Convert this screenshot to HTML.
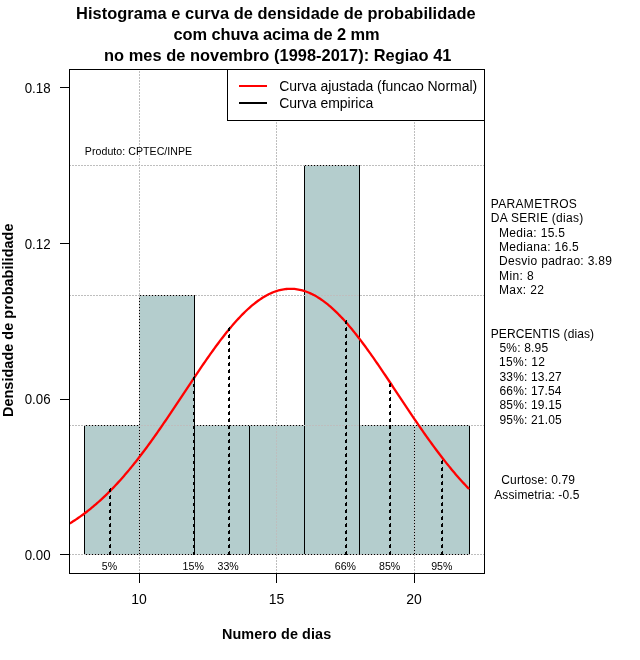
<!DOCTYPE html>
<html lang="pt"><head><meta charset="utf-8"><title>Histograma e curva de densidade de probabilidade</title>
<style>html,body{margin:0;padding:0;background:#fff}body{width:640px;height:660px;overflow:hidden}svg{display:block}text{font-family:"Liberation Sans",Arial,Helvetica,sans-serif;fill:#000}.b{font-weight:bold}.t{font-size:16.4px}.l{font-size:14.4px}.a{font-size:14px}.s{font-size:12px}.p{font-size:10.6px}</style></head><body>
<svg width="640" height="660" viewBox="0 0 640 660">
<rect width="640" height="660" fill="#fff"/>
<g shape-rendering="crispEdges" stroke="#000" stroke-width="1" fill="#b4cdcd">
<rect x="84.5" y="425.5" width="55" height="129"/>
<rect x="139.5" y="295.5" width="55" height="259"/>
<rect x="194.5" y="425.5" width="55" height="129"/>
<rect x="249.5" y="425.5" width="55" height="129"/>
<rect x="304.5" y="165.5" width="55" height="389"/>
<rect x="359.5" y="425.5" width="55" height="129"/>
<rect x="414.5" y="425.5" width="55" height="129"/>
</g>
<g shape-rendering="crispEdges" stroke="#bebebe" stroke-width="1" stroke-dasharray="2 1" fill="none">
<line x1="139.5" y1="574" x2="139.5" y2="70"/>
<line x1="276.5" y1="574" x2="276.5" y2="70"/>
<line x1="414.5" y1="574" x2="414.5" y2="70"/>
<line x1="69" y1="554.5" x2="484" y2="554.5"/>
<line x1="69" y1="425.5" x2="484" y2="425.5"/>
<line x1="69" y1="295.5" x2="484" y2="295.5"/>
<line x1="69" y1="165.5" x2="484" y2="165.5"/>
</g>
<clipPath id="plt"><rect x="70" y="70" width="414" height="503"/></clipPath>
<path clip-path="url(#plt)" d="M69.12 523.81 L70.45 523.00 L71.79 522.17 L73.12 521.33 L74.45 520.47 L75.79 519.59 L77.12 518.69 L78.45 517.78 L79.79 516.86 L81.12 515.91 L82.45 514.95 L83.79 513.97 L85.12 512.97 L86.45 511.96 L87.79 510.92 L89.12 509.87 L90.45 508.80 L91.79 507.72 L93.12 506.61 L94.45 505.49 L95.79 504.35 L97.12 503.19 L98.45 502.01 L99.78 500.82 L101.12 499.60 L102.45 498.37 L103.78 497.12 L105.12 495.85 L106.45 494.56 L107.78 493.26 L109.12 491.93 L110.45 490.59 L111.78 489.23 L113.12 487.85 L114.45 486.45 L115.78 485.03 L117.12 483.60 L118.45 482.14 L119.78 480.67 L121.12 479.18 L122.45 477.68 L123.78 476.15 L125.12 474.61 L126.45 473.05 L127.78 471.47 L129.12 469.88 L130.45 468.27 L131.78 466.64 L133.12 464.99 L134.45 463.33 L135.78 461.66 L137.12 459.96 L138.45 458.25 L139.78 456.53 L141.12 454.79 L142.45 453.04 L143.78 451.27 L145.12 449.48 L146.45 447.69 L147.78 445.88 L149.12 444.05 L150.45 442.22 L151.78 440.37 L153.12 438.50 L154.45 436.63 L155.78 434.75 L157.12 432.85 L158.45 430.94 L159.78 429.03 L161.11 427.10 L162.45 425.16 L163.78 423.22 L165.11 421.27 L166.45 419.30 L167.78 417.34 L169.11 415.36 L170.45 413.38 L171.78 411.39 L173.11 409.40 L174.45 407.40 L175.78 405.40 L177.11 403.40 L178.45 401.39 L179.78 399.38 L181.11 397.37 L182.45 395.35 L183.78 393.34 L185.11 391.32 L186.45 389.31 L187.78 387.30 L189.11 385.29 L190.45 383.28 L191.78 381.28 L193.11 379.28 L194.45 377.28 L195.78 375.29 L197.11 373.31 L198.45 371.33 L199.78 369.36 L201.11 367.40 L202.45 365.45 L203.78 363.50 L205.11 361.57 L206.45 359.65 L207.78 357.73 L209.11 355.84 L210.45 353.95 L211.78 352.08 L213.11 350.22 L214.45 348.38 L215.78 346.55 L217.11 344.74 L218.45 342.95 L219.78 341.17 L221.11 339.41 L222.44 337.68 L223.78 335.96 L225.11 334.26 L226.44 332.59 L227.78 330.94 L229.11 329.31 L230.44 327.70 L231.78 326.12 L233.11 324.56 L234.44 323.03 L235.78 321.53 L237.11 320.05 L238.44 318.60 L239.78 317.17 L241.11 315.78 L242.44 314.41 L243.78 313.08 L245.11 311.77 L246.44 310.50 L247.78 309.26 L249.11 308.05 L250.44 306.87 L251.78 305.72 L253.11 304.61 L254.44 303.54 L255.78 302.49 L257.11 301.49 L258.44 300.52 L259.78 299.58 L261.11 298.68 L262.44 297.82 L263.78 297.00 L265.11 296.21 L266.44 295.46 L267.78 294.75 L269.11 294.08 L270.44 293.45 L271.78 292.85 L273.11 292.30 L274.44 291.78 L275.78 291.31 L277.11 290.87 L278.44 290.48 L279.77 290.13 L281.11 289.82 L282.44 289.54 L283.77 289.31 L285.11 289.12 L286.44 288.98 L287.77 288.87 L289.11 288.81 L290.44 288.78 L291.77 288.80 L293.11 288.86 L294.44 288.96 L295.77 289.10 L297.11 289.28 L298.44 289.51 L299.77 289.77 L301.11 290.08 L302.44 290.43 L303.77 290.82 L305.11 291.24 L306.44 291.71 L307.77 292.22 L309.11 292.77 L310.44 293.36 L311.77 293.99 L313.11 294.65 L314.44 295.36 L315.77 296.10 L317.11 296.88 L318.44 297.70 L319.77 298.56 L321.11 299.45 L322.44 300.38 L323.77 301.35 L325.11 302.35 L326.44 303.39 L327.77 304.46 L329.11 305.56 L330.44 306.70 L331.77 307.88 L333.11 309.08 L334.44 310.32 L335.77 311.59 L337.11 312.89 L338.44 314.22 L339.77 315.58 L341.10 316.97 L342.44 318.39 L343.77 319.84 L345.10 321.31 L346.44 322.81 L347.77 324.34 L349.10 325.90 L350.44 327.47 L351.77 329.08 L353.10 330.70 L354.44 332.35 L355.77 334.02 L357.10 335.72 L358.44 337.43 L359.77 339.17 L361.10 340.92 L362.44 342.69 L363.77 344.48 L365.10 346.29 L366.44 348.11 L367.77 349.96 L369.10 351.81 L370.44 353.68 L371.77 355.57 L373.10 357.46 L374.44 359.37 L375.77 361.29 L377.10 363.23 L378.44 365.17 L379.77 367.12 L381.10 369.08 L382.44 371.05 L383.77 373.03 L385.10 375.01 L386.44 377.00 L387.77 378.99 L389.10 380.99 L390.44 383.00 L391.77 385.00 L393.10 387.01 L394.44 389.02 L395.77 391.04 L397.10 393.05 L398.44 395.06 L399.77 397.08 L401.10 399.09 L402.43 401.10 L403.77 403.11 L405.10 405.11 L406.43 407.12 L407.77 409.11 L409.10 411.11 L410.43 413.10 L411.77 415.08 L413.10 417.05 L414.43 419.02 L415.77 420.99 L417.10 422.94 L418.43 424.89 L419.77 426.82 L421.10 428.75 L422.43 430.67 L423.77 432.58 L425.10 434.48 L426.43 436.36 L427.77 438.24 L429.10 440.10 L430.43 441.95 L431.77 443.79 L433.10 445.62 L434.43 447.43 L435.77 449.23 L437.10 451.01 L438.43 452.78 L439.77 454.54 L441.10 456.28 L442.43 458.01 L443.77 459.72 L445.10 461.41 L446.43 463.09 L447.77 464.76 L449.10 466.40 L450.43 468.03 L451.77 469.65 L453.10 471.24 L454.43 472.82 L455.77 474.39 L457.10 475.93 L458.43 477.46 L459.76 478.97 L461.10 480.46 L462.43 481.93 L463.76 483.39 L465.10 484.83 L466.43 486.25 L467.76 487.65 L469.10 489.03" fill="none" stroke="#f00" stroke-width="2.3" stroke-linejoin="round"/>
<g shape-rendering="crispEdges" stroke="#000" stroke-width="1" fill="none">
<line x1="110.5" y1="555" x2="110.5" y2="488" stroke-dasharray="4 3"/>
<line x1="109.5" y1="555" x2="109.5" y2="488" stroke-dasharray="3 4"/>
<line x1="194.5" y1="555" x2="194.5" y2="376" stroke-dasharray="4 3"/>
<line x1="193.5" y1="555" x2="193.5" y2="376" stroke-dasharray="3 4"/>
<line x1="229.5" y1="555" x2="229.5" y2="327" stroke-dasharray="4 3"/>
<line x1="228.5" y1="555" x2="228.5" y2="327" stroke-dasharray="3 4"/>
<line x1="346.5" y1="555" x2="346.5" y2="320" stroke-dasharray="4 3"/>
<line x1="345.5" y1="555" x2="345.5" y2="320" stroke-dasharray="3 4"/>
<line x1="390.5" y1="555" x2="390.5" y2="383" stroke-dasharray="4 3"/>
<line x1="389.5" y1="555" x2="389.5" y2="383" stroke-dasharray="3 4"/>
<line x1="442.5" y1="555" x2="442.5" y2="460" stroke-dasharray="4 3"/>
<line x1="441.5" y1="555" x2="441.5" y2="460" stroke-dasharray="3 4"/>
</g>
<g shape-rendering="crispEdges" stroke="#000" stroke-width="1" fill="none">
<rect x="69.5" y="69.5" width="415" height="504"/>
<line x1="60" y1="87.5" x2="69" y2="87.5"/>
<line x1="60" y1="243.5" x2="69" y2="243.5"/>
<line x1="60" y1="399.5" x2="69" y2="399.5"/>
<line x1="60" y1="554.5" x2="69" y2="554.5"/>
<line x1="139.5" y1="574" x2="139.5" y2="583"/>
<line x1="276.5" y1="574" x2="276.5" y2="583"/>
<line x1="414.5" y1="574" x2="414.5" y2="583"/>
<rect x="227.5" y="69.5" width="257" height="51" fill="#fff"/>
</g>
<g shape-rendering="crispEdges" stroke-width="2">
<line x1="239" y1="86" x2="267" y2="86" stroke="#f00"/>
<line x1="239" y1="103" x2="267" y2="103" stroke="#000"/>
</g>
<text class="a" x="279.25" y="90.6" style="letter-spacing:-0.016px">Curva ajustada (funcao Normal)</text>
<text class="a" x="279.25" y="108.1" style="letter-spacing:-0.016px">Curva empirica</text>
<text class="b t" x="76.0" y="18.75" style="letter-spacing:0.053px">Histograma e curva de densidade de probabilidade</text>
<text class="b t" x="173.5" y="39.6" style="letter-spacing:-0.075px">com chuva acima de 2 mm</text>
<text class="b t" x="104.0" y="60.6" style="letter-spacing:0.031px">no mes de novembro (1998-2017): Regiao 41</text>
<text class="b l" x="222.0" y="638.75" style="letter-spacing:0.096px">Numero de dias</text>
<text class="b l" transform="translate(13.1 417.00) rotate(-90)" style="letter-spacing:0.06px">Densidade de probabilidade</text>
<text class="a" text-anchor="end" transform="translate(50.6 92.75) scale(0.95 1.1)">0.18</text>
<text class="a" text-anchor="end" transform="translate(50.6 248.75) scale(0.95 1.1)">0.12</text>
<text class="a" text-anchor="end" transform="translate(50.6 403.75) scale(0.95 1.1)">0.06</text>
<text class="a" text-anchor="end" transform="translate(50.6 559.75) scale(0.95 1.1)">0.00</text>
<text class="a" text-anchor="middle" transform="translate(139 604) scale(1 1.08)">10</text>
<text class="a" text-anchor="middle" transform="translate(276.5 604) scale(1 1.08)">15</text>
<text class="a" text-anchor="middle" transform="translate(414 604) scale(1 1.08)">20</text>
<text class="p" text-anchor="middle" x="109.4" y="569.75">5%</text>
<text class="p" text-anchor="middle" x="193.2" y="569.75">15%</text>
<text class="p" text-anchor="middle" x="228.1" y="569.75">33%</text>
<text class="p" text-anchor="middle" x="345.4" y="569.75">66%</text>
<text class="p" text-anchor="middle" x="389.6" y="569.75">85%</text>
<text class="p" text-anchor="middle" x="441.8" y="569.75">95%</text>
<text class="p" x="84.85" y="154.75" style="letter-spacing:0.042px">Produto: CPTEC/INPE</text>
<text class="s" x="490.75" y="207.5" style="letter-spacing:0.333px">PARAMETROS</text>
<text class="s" x="490.75" y="221.75" style="letter-spacing:0.268px">DA SERIE (dias)</text>
<text class="s" x="499.0" y="236.5" style="letter-spacing:0.325px">Media: 15.5</text>
<text class="s" x="499.0" y="250.75" style="letter-spacing:0.312px">Mediana: 16.5</text>
<text class="s" x="499.0" y="265.25" style="letter-spacing:0.306px">Desvio padrao: 3.89</text>
<text class="s" x="499.0" y="279.5" style="letter-spacing:0.4px">Min: 8</text>
<text class="s" x="499.0" y="293.75" style="letter-spacing:0.375px">Max: 22</text>
<text class="s" x="490.75" y="337.5" style="letter-spacing:0.083px">PERCENTIS (dias)</text>
<text class="s" x="499.5" y="351.5" style="letter-spacing:0.179px">5%: 8.95</text>
<text class="s" x="499.0" y="365.75" style="letter-spacing:0.333px">15%: 12</text>
<text class="s" x="499.5" y="380.5" style="letter-spacing:0.167px">33%: 13.27</text>
<text class="s" x="499.5" y="394.75" style="letter-spacing:0.139px">66%: 17.54</text>
<text class="s" x="499.5" y="409.25" style="letter-spacing:0.167px">85%: 19.15</text>
<text class="s" x="499.5" y="423.5" style="letter-spacing:0.167px">95%: 21.05</text>
<text class="s" x="501.25" y="483.75" style="letter-spacing:0.146px">Curtose: 0.79</text>
<text class="s" x="494.25" y="498.75" style="letter-spacing:0.117px">Assimetria: -0.5</text>
</svg></body></html>
